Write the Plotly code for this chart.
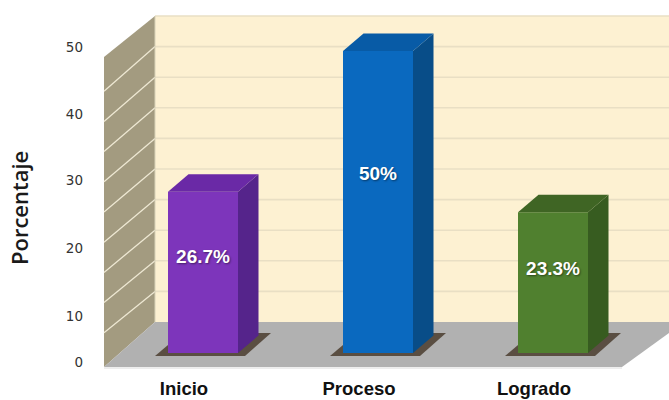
import plotly.graph_objects as go

# --- data ---
categories = ["Inicio", "Proceso", "Logrado"]
values = [26.7, 50, 23.3]
value_labels = ["26.7%", "50%", "23.3%"]
front_colors = ["#7d35bb", "#0a69bf", "#50802f"]
side_colors = ["#55248b", "#084d88", "#375c20"]
top_colors = ["#6a29a6", "#085ba6", "#3f6524"]
y_tick_labels = ["0", "10", "20", "30", "40", "50"]
y_tick_positions = [-1.5, 6.1, 17.4, 28.6, 39.6, 50.7]
grid_levels = [0, 5, 10, 15, 20, 25, 30, 35, 40, 45, 50]

# --- scale set-up (pixels per unit, depth of the pseudo 3-D) ---
W, H = 669, 400
ML, MB = 84, 25
PX_PER_CAT, PX_PER_VAL = 175.0, 6.04
CAT0_PX, BASE_PX = 184.0, 353.0
BAR_OFFSET = 19 / PX_PER_CAT
BAR_WIDTH = 70 / PX_PER_CAT
DX = 20.5 / PX_PER_CAT
DY = 17.5 / PX_PER_VAL


def X(px):
    return (px - CAT0_PX) / PX_PER_CAT


def Y(px):
    return (BASE_PX - px) / PX_PER_VAL


def poly(points, fill, line="rgba(0,0,0,0)", width=0):
    path = "M " + " L ".join(f"{X(a):.4f},{Y(b):.4f}" for a, b in points) + " Z"
    return dict(type="path", path=path, xref="x", yref="y", fillcolor=fill,
                line=dict(color=line, width=width), layer="below")


def seg(x0, y0, x1, y1, color, width=1.5):
    return dict(type="line", xref="x", yref="y", x0=X(x0), y0=Y(y0), x1=X(x1), y1=Y(y1),
                line=dict(color=color, width=width), layer="below")


shapes = [
    poly([(155, 16), (669, 16), (669, 322), (155, 322)], "#fdf1d2"),
    poly([(104, 57), (155, 16), (155, 322), (104, 367)], "#a39b80"),
    poly([(104, 367), (155, 322), (669, 322), (669, 333), (622, 367)], "#b1b1b1"),
    seg(104, 368, 622, 368, "#dcdcdc", 1),
]
for lev in grid_levels:
    by = 322 - lev * 6.12
    fy = by + 41 + (322 - by) / 306 * 4
    if lev > 0:
        shapes.append(seg(155, by, 669, by, "#e9dfc4", 1.6))
    if 0 < lev < 50:
        shapes.append(seg(104, fy, 155, by, "#eee8d3", 1.3))
shapes.append(seg(155, 16, 155, 322, "#d8d2b8", 1))

# floor shadows follow the bar positions
for i in range(len(categories)):
    cx = CAT0_PX + i * PX_PER_CAT + 19
    shapes.append(poly([(cx - 48, 356), (cx - 35, 345), (cx + 35, 333), (cx + 68, 333),
                        (cx + 42, 356)], "#5a4e42"))

fig = go.Figure()

bar_x = [i + BAR_OFFSET for i in range(len(categories))]
fig.add_trace(go.Bar(x=bar_x, y=values, width=BAR_WIDTH, marker=dict(color=front_colors, line_width=0),
                     hoverinfo="skip", showlegend=False))

for cx, v, sc, tc in zip(bar_x, values, side_colors, top_colors):
    xl, xr = cx - BAR_WIDTH / 2, cx + BAR_WIDTH / 2
    fig.add_trace(go.Scatter(x=[xr, xr + DX, xr + DX, xr, xr], y=[0, DY, v + DY, v, 0], mode="lines",
                             fill="toself", fillcolor=sc, line=dict(width=0, color=sc),
                             hoverinfo="skip", showlegend=False))
    fig.add_trace(go.Scatter(x=[xl, xl + DX, xr + DX, xr, xl], y=[v, v + DY, v + DY, v, v], mode="lines",
                             fill="toself", fillcolor=tc, line=dict(width=0, color=tc),
                             hoverinfo="skip", showlegend=False))

fig.add_trace(go.Scatter(x=bar_x, y=[v * 0.59 for v in values], mode="text", text=value_labels,
                         textposition="middle center",
                         textfont=dict(family="Liberation Sans", size=19, color="#ffffff", weight=700,
                                       shadow="1px 1px 2px rgba(0,0,0,0.45)"),
                         hoverinfo="skip", showlegend=False))

fig.update_layout(
    width=W, height=H, margin=dict(l=ML, r=0, t=0, b=MB, autoexpand=False),
    paper_bgcolor="#ffffff", plot_bgcolor="rgba(0,0,0,0)", showlegend=False, shapes=shapes,
    xaxis=dict(range=[X(ML), X(W)], tickmode="array", tickvals=list(range(len(categories))),
               ticktext=categories, showgrid=False, zeroline=False, showline=False, ticks="",
               tickfont=dict(family="Liberation Sans", size=18.5, color="#111111", weight=700)),
    yaxis=dict(range=[Y(H - MB), Y(0)], tickmode="array", tickvals=y_tick_positions,
               ticktext=y_tick_labels, showgrid=False, zeroline=False, showline=False, ticks="",
               tickfont=dict(family="DejaVu Sans", size=13.5, color="#333333")),
    annotations=[dict(text="Porcentaje", textangle=-90, xref="paper", yref="paper",
                      x=-ML / (W - ML) + 19 / (W - ML), y=1 - 208 / (H - MB), showarrow=False,
                      xanchor="center", yanchor="middle",
                      font=dict(family="Open Sans", size=22, color="#1a1a1a", weight=600))],
)

fig.write_html("out.html", post_script="document.body.style.margin='0';",
               config={"displayModeBar": False})
